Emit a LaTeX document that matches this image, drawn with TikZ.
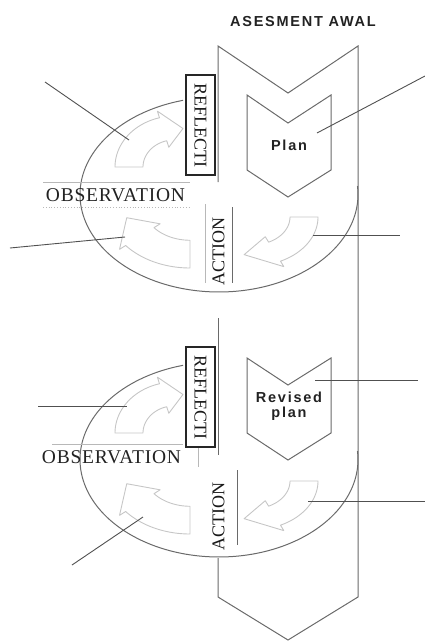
\documentclass[tikz,border=0pt]{standalone}
\usepackage{fontspec}
\setmainfont{Liberation Serif}
\newfontfamily\lssans[LetterSpace=12]{Liberation Sans}
\newfontfamily\lsserif[LetterSpace=4]{Liberation Serif}
\definecolor{lineg}{HTML}{6A6A6A}
\definecolor{callg}{HTML}{505050}
\definecolor{arrg}{HTML}{C6C6C6}
\definecolor{txtg}{HTML}{222222}
\definecolor{faint}{HTML}{B8B8B8}
% cx cy rin rout yfactor t0 t1 t2
\newcommand{\carrow}[8]{%
  \draw[cyclearrow] plot[domain=#6:#7,samples=30] ({#1+#4*cos(\x)},{#2+#4*#5*sin(\x)})
    -- ({#1+(#4+8)*cos(#7)},{#2+(#4+8)*#5*sin(#7)})
    -- ({#1+(#3+#4)/2*cos(#8)},{#2+(#3+#4)/2*#5*sin(#8)})
    -- ({#1+(#3-8)*cos(#7)},{#2+(#3-8)*#5*sin(#7)})
    -- plot[domain=#7:#6,samples=30] ({#1+#3*cos(\x)},{#2+#3*#5*sin(\x)}) -- cycle;}
\begin{document}
\begin{tikzpicture}[x=1pt,y=-1pt,
  cyclearrow/.style={draw=arrg, line width=0.9pt, line join=round},
  frame/.style={draw=lineg, line width=1pt},
  callout/.style={draw=callg, line width=0.9pt},
  faintline/.style={draw=faint, line width=0.8pt},
  boxline/.style={draw=black!85, line width=1.2pt},
  sanstxt/.style={text=txtg, font=\lssans\bfseries\fontsize{14.5}{16}\selectfont, inner sep=0pt, align=center},
  serifbig/.style={text=txtg, font=\lsserif\fontsize{19.5}{20}\selectfont, inner sep=0pt},
  serifvert/.style={text=black!90, font=\fontsize{18}{18}\selectfont, inner sep=0pt}]
\useasboundingbox (0,0) rectangle (425,642);

% title
\node[sanstxt] (asesment) at (303,22) {ASESMENT AWAL};

% big chevron
\draw[frame] (218,182) -- (218,46) -- (288,93) -- (358,46) -- (358,597) -- (288,640) -- (218,597) -- (218,558);
\draw[frame] (218,318) -- (218,455);

% ellipses
\draw[frame] plot[domain=-365:-105, samples=120] ({219+139*cos(\x)},{194.5+97.5*sin(\x)});
\draw[frame] plot[domain=-365:-105, samples=120] ({219+139*cos(\x)},{459.5+97.5*sin(\x)});

% plan chevrons
\draw[frame] (247,95) -- (288,123) -- (331,95) -- (331,170) -- (288,197) -- (247,170) -- cycle;
\node[sanstxt] (plan) at (289,145) {Plan};
\draw[frame] (247,358) -- (288,385) -- (331,358) -- (331,433) -- (288,460) -- (247,433) -- cycle;
\node[sanstxt] (revised) at (289,406) {Revised\\[-1pt]plan};

% cycle arrows, top
\carrow{175}{167}{32}{60}{0.85}{180}{255}{280}
\carrow{190}{205}{47}{84}{0.75}{90}{140}{165}
\carrow{253}{217}{37}{65}{0.75}{0}{65}{100}
% cycle arrows, bottom
\carrow{175}{433}{32}{60}{0.85}{180}{255}{280}
\carrow{190}{471}{47}{84}{0.75}{90}{140}{165}
\carrow{253}{481}{37}{65}{0.75}{0}{65}{100}

% REFLECTI boxes
\node[boxline, serifvert, rotate=-90, minimum width=100pt, minimum height=29pt] (refl1) at (200.5,125) {REFLECTI};
\node[boxline, serifvert, rotate=-90, minimum width=100pt, minimum height=29pt] (refl2) at (200.5,397) {REFLECTI};

% ACTION
\node[serifvert, rotate=90] (act1) at (218.5,251.5) {ACTION};
\node[serifvert, rotate=90] (act2) at (218.5,516) {ACTION};
\draw[faintline] (205,204) -- (205,283);
\draw[frame] (232,207) -- (232,283);
\draw[faintline] (198,448) -- (198,467);
\draw[frame] (237,470) -- (237,545);

% OBSERVATION
\node[serifbig] (obs1) at (115.5,195) {OBSERVATION};
\node[serifbig] (obs2) at (111.5,457) {OBSERVATION};
\draw[faintline] (43,182) -- (190,182);
\draw[faintline, dotted] (43,207) -- (190,207);
\draw[faintline] (52,444) -- (183,444);

% callout lines
\coordinate (c1a) at (45,82);   \coordinate (c1b) at (129,140);
\coordinate (c2a) at (10,248);  \coordinate (c2b) at (125,237);
\coordinate (c3a) at (317,133); \coordinate (c3b) at (425,76);
\coordinate (c4a) at (313,235); \coordinate (c4b) at (400,235);
\coordinate (c5a) at (38,406);  \coordinate (c5b) at (127,406);
\coordinate (c6a) at (72,565);  \coordinate (c6b) at (143,517);
\coordinate (c7a) at (315,380); \coordinate (c7b) at (418,380);
\coordinate (c8a) at (308,501); \coordinate (c8b) at (425,501);
\draw[callout] (c1a) -- (c1b);
\draw[callout] (c2a) -- (c2b);
\draw[callout] (c3a) -- (c3b);
\draw[callout] (c4a) -- (c4b);
\draw[callout] (c5a) -- (c5b);
\draw[callout] (c6a) -- (c6b);
\draw[callout] (c7a) -- (c7b);
\draw[callout] (c8a) -- (c8b);
\end{tikzpicture}
\end{document}
